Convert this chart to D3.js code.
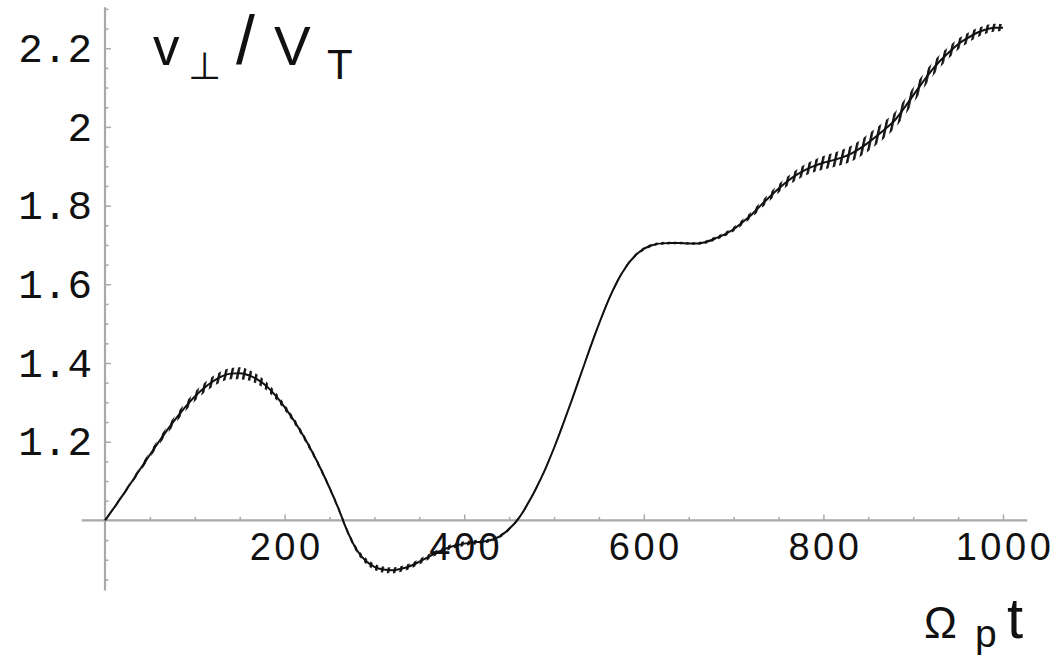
<!DOCTYPE html>
<html>
<head>
<meta charset="utf-8">
<script src="https://cdn.jsdelivr.net/npm/d3@7"></script>
<style>
  html, body { margin: 0; padding: 0; background: #fff; }
  svg { display: block; }
</style>
</head>
<body>
<svg id="chart" width="1057" height="662"></svg>
<script>
// ---- data ----
const timeSteps = [0,10,20,30,40,50,60,70,80,90,100,110,120,130,140,150,160,170,180,190,
  200,210,220,230,240,250,260,270,280,290,300,310,320,330,340,350,360,370,380,390,
  400,410,420,430,440,450,460,470,480,490,500,510,520,530,540,550,560,570,580,590,
  600,610,620,630,640,650,660,670,680,690,700,710,720,730,740,750,760,770,780,790,
  800,810,820,830,840,850,860,870,880,890,900,910,920,930,940,950,960,970,980,990,1000];
const vPerp = [1.000,1.032,1.065,1.099,1.133,1.167,1.200,1.232,1.262,1.290,1.315,1.336,1.353,1.366,1.373,1.374,1.369,1.358,1.341,1.317,
  1.288,1.255,1.218,1.177,1.132,1.083,1.030,0.972,0.926,0.898,0.882,0.875,0.873,0.877,0.884,0.895,0.907,0.919,0.929,0.936,
  0.941,0.944,0.946,0.950,0.960,0.978,1.003,1.039,1.081,1.129,1.184,1.244,1.307,1.372,1.437,1.499,1.556,1.605,1.644,1.672,
  1.690,1.700,1.704,1.705,1.705,1.704,1.704,1.708,1.717,1.727,1.740,1.758,1.777,1.800,1.822,1.843,1.862,1.878,1.891,1.901,
  1.909,1.915,1.922,1.931,1.944,1.960,1.978,1.997,2.018,2.048,2.080,2.112,2.142,2.168,2.190,2.210,2.225,2.238,2.247,2.252,2.252];
// half-height of the fast oscillation riding on the curve
const rippleTimes = [0,50,100,150,200,250,300,350,400,450,500,550,600,650,700,750,800,850,900,950,1000];
const rippleAmp   = [0.003,0.008,0.012,0.015,0.008,0.006,0.008,0.007,0.006,0.004,0.005,0.005,0.004,0.003,0.006,0.011,0.017,0.022,0.020,0.014,0.009];
const xMajorTicks = [200,400,600,800,1000];
const xMinorTicks = [50,100,150,250,300,350,450,500,550,650,700,750,850,900,950];
const yMajorTicks = [1.2,1.4,1.6,1.8,2.0,2.2];
const yTickLabels = ["1.2","1.4","1.6","1.8","2","2.2"];
const yMinorTicks = [0.85,0.9,0.95,1.05,1.1,1.15,1.25,1.3,1.35,1.45,1.5,1.55,1.65,1.7,1.75,1.85,1.9,1.95,2.05,2.1,2.15,2.25,2.3];
const xRange = [-26, 1027];
const yRange = [0.822, 2.304];

// ---- drawing ----
const svg = d3.select("#chart");
const x = d3.scaleLinear().domain([0, 1000]).range([105, 1003]);
const y = d3.scaleLinear().domain([1, 2.2]).range([520.4, 48.2]);
const axisColor = "#a9a9a9";

const defs = svg.append("defs");
const pat = defs.append("pattern").attr("id", "ripple")
  .attr("patternUnits", "userSpaceOnUse").attr("width", 6.2).attr("height", 20)
  .attr("patternTransform", "skewX(-12)");
pat.append("rect").attr("x", 0).attr("y", 0).attr("width", 2.5).attr("height", 20).attr("fill", "#151515");

// axes lines
svg.append("line").attr("x1", x(xRange[0])).attr("x2", x(xRange[1]))
  .attr("y1", y(1)).attr("y2", y(1)).attr("stroke", axisColor).attr("stroke-width", 2.2);
svg.append("line").attr("x1", x(0)).attr("x2", x(0))
  .attr("y1", y(yRange[1])).attr("y2", y(yRange[0])).attr("stroke", axisColor).attr("stroke-width", 2.2);

// x axis ticks (pointing up) and labels
const gx = svg.append("g").attr("transform", `translate(0,${y(1)})`);
gx.call(d3.axisBottom(x).tickValues(xMajorTicks).tickSizeInner(-6).tickSizeOuter(0).tickPadding(13)
  .tickFormat(d3.format("d")));
const gxm = svg.append("g").attr("transform", `translate(0,${y(1)})`);
gxm.call(d3.axisBottom(x).tickValues(xMinorTicks).tickSizeInner(-3.5).tickSizeOuter(0).tickFormat(""));
[gx, gxm].forEach(g => { g.select(".domain").remove(); g.selectAll("line").attr("stroke", axisColor).attr("stroke-width", 1.5); });
gx.selectAll("text").attr("fill", "#111").attr("font-family", "'Liberation Sans', Arial, sans-serif")
  .attr("font-size", 38).attr("letter-spacing", "3.5px").attr("dx", "1.5px");

// y axis ticks (pointing right) and labels
const gy = svg.append("g").attr("transform", `translate(${x(0)},0)`);
gy.call(d3.axisLeft(y).tickValues(yMajorTicks).tickSizeInner(-6).tickSizeOuter(0).tickPadding(13)
  .tickFormat((d, i) => yTickLabels[i]));
const gym = svg.append("g").attr("transform", `translate(${x(0)},0)`);
gym.call(d3.axisLeft(y).tickValues(yMinorTicks).tickSizeInner(-3.5).tickSizeOuter(0).tickFormat(""));
[gy, gym].forEach(g => { g.select(".domain").remove(); g.selectAll("line").attr("stroke", axisColor).attr("stroke-width", 1.5); });
gy.selectAll("text").attr("fill", "#111").attr("font-family", "'Liberation Mono', 'Courier New', monospace")
  .attr("font-size", 41);

// ripple band
const ampAt = d3.scaleLinear().domain(rippleTimes).range(rippleAmp);
const pts = timeSteps.map((t, i) => ({ t, v: vPerp[i], a: ampAt(t) }));
svg.append("path").datum(pts)
  .attr("d", d3.area().curve(d3.curveMonotoneX).x(d => x(d.t)).y0(d => y(d.v - d.a)).y1(d => y(d.v + d.a)))
  .attr("fill", "url(#ripple)");

// main curve
svg.append("path").datum(pts)
  .attr("d", d3.line().curve(d3.curveMonotoneX).x(d => x(d.t)).y(d => y(d.v)))
  .attr("fill", "none").attr("stroke", "#111").attr("stroke-width", 2);

// axis titles
const sans = "'Liberation Sans', Arial, sans-serif";
const yt = svg.append("g").attr("fill", "#111").attr("font-family", sans);
yt.append("text").attr("x", 153).attr("y", 65).attr("font-size", 53).text("v");
yt.append("text").attr("x", 188).attr("y", 79).attr("font-size", 38).attr("font-family", "'DejaVu Sans', sans-serif").text("\u22A5");
yt.append("text").attr("x", 236).attr("y", 64).attr("font-size", 68).text("/");
yt.append("text").attr("x", 274).attr("y", 65).attr("font-size", 55).text("V");
yt.append("text").attr("x", 327).attr("y", 79).attr("font-size", 42).text("T");

const xt = svg.append("g").attr("fill", "#111").attr("font-family", sans);
xt.append("text").attr("x", 924).attr("y", 638).attr("font-size", 44).text("\u03A9");
xt.append("text").attr("x", 975).attr("y", 647).attr("font-size", 39).text("p");
xt.append("text").attr("x", 1007).attr("y", 638).attr("font-size", 58).text("t");
</script>
</body>
</html>
